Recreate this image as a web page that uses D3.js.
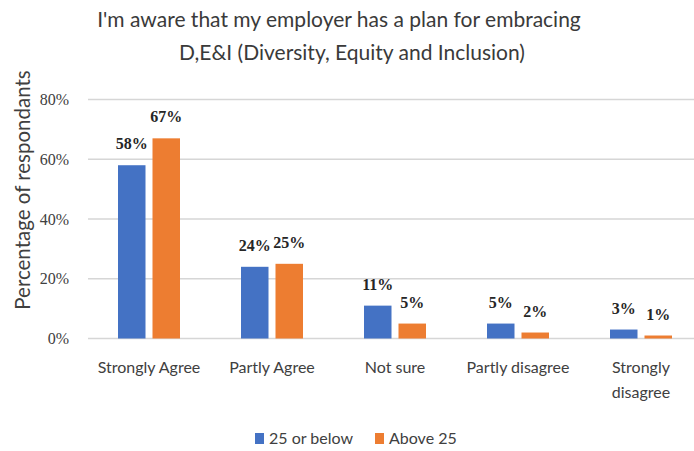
<!DOCTYPE html>
<html>
<head>
<meta charset="utf-8">
<script src="https://cdn.jsdelivr.net/npm/d3@7"></script>
<style>
  html, body { margin: 0; padding: 0; background: #fff; }
  svg { display: block; }
</style>
</head>
<body>
<svg id="chart" width="694" height="451"></svg>
<script>
// Survey responses by age group (percent of respondents)
const categories = ["Strongly Agree", "Partly Agree", "Not sure", "Partly disagree", "Strongly disagree"];
const seriesNames = ["25 or below", "Above 25"];
const youngerValues = [58, 24, 11, 5, 3];
const olderValues = [67, 25, 5, 2, 1];
const yTicks = [0, 20, 40, 60, 80];
const colors = ["#4472C4", "#ED7D31"];

const svg = d3.select("#chart");
const W = 694, H = 451;
const plotLeft = 88, plotRight = 694;

// Category bands (the last band runs past the visible edge)
const x = d3.scaleBand()
  .domain(categories)
  .range([87.5, 702.5])
  .paddingInner(0)
  .paddingOuter(0);

const y = d3.scaleLinear()
  .domain([0, 80])
  .range([338.5, 99.5]);

const sansFont = "Lato, 'Open Sans', sans-serif";
const serifFont = "'Liberation Serif', serif";

// Title
const title = svg.append("text")
  .attr("text-anchor", "middle")
  .attr("fill", "#3a3a3a")
  .style("font-family", sansFont)
  .style("font-size", "21px");
title.append("tspan").attr("x", 339).attr("y", 27).text("I'm aware that my employer has a plan for embracing");
title.append("tspan").attr("x", 352).attr("y", 60).text("D,E&I (Diversity, Equity and Inclusion)");

// Gridlines
svg.append("g")
  .selectAll("line")
  .data(yTicks)
  .join("line")
  .attr("x1", plotLeft)
  .attr("x2", plotRight)
  .attr("y1", d => y(d))
  .attr("y2", d => y(d))
  .attr("stroke", "#d6d6d6")
  .attr("stroke-width", 1.6);

// Y axis labels
const yAxis = d3.axisLeft(y)
  .tickValues(yTicks)
  .tickFormat(d => d + "%")
  .tickSize(0)
  .tickPadding(0);
const yg = svg.append("g")
  .attr("transform", `translate(69,0)`)
  .call(yAxis);
yg.select(".domain").remove();
yg.selectAll("text")
  .attr("fill", "#404040")
  .style("font-family", serifFont)
  .style("font-size", "16px");

// Y axis title
svg.append("text")
  .attr("transform", `translate(30,190) rotate(-90)`)
  .attr("text-anchor", "middle")
  .attr("fill", "#404040")
  .style("font-family", sansFont)
  .style("font-size", "20.5px")
  .text("Percentage of respondants");

// Bars with value labels
const barW = 27.5, gap = 7;
const series = [youngerValues, olderValues];
series.forEach((vals, si) => {
  const g = svg.append("g");
  const offset = si === 0 ? -(gap / 2 + barW) : gap / 2;
  g.selectAll("rect")
    .data(vals)
    .join("rect")
    .attr("x", (d, i) => x(categories[i]) + x.bandwidth() / 2 + offset)
    .attr("y", d => y(d))
    .attr("width", barW)
    .attr("height", d => y(0) - y(d))
    .attr("fill", colors[si]);
  g.selectAll("text")
    .data(vals)
    .join("text")
    .attr("x", (d, i) => x(categories[i]) + x.bandwidth() / 2 + offset + barW / 2)
    .attr("y", d => y(d) - 16)
    .attr("text-anchor", "middle")
    .attr("fill", "#262626")
    .style("font-family", serifFont)
    .style("font-weight", "bold")
    .style("font-size", "16px")
    .text(d => d + "%");
});

// Category labels
const catG = svg.append("g");
categories.forEach(c => {
  const cx = x(c) + x.bandwidth() / 2;
  const t = catG.append("text")
    .attr("text-anchor", "middle")
    .attr("fill", "#404040")
    .style("font-family", sansFont)
    .style("font-size", "16px");
  if (c === "Strongly disagree") {
    t.append("tspan").attr("x", cx).attr("y", 373).text("Strongly");
    t.append("tspan").attr("x", cx).attr("y", 398).text("disagree");
  } else {
    t.append("tspan").attr("x", cx).attr("y", 373).text(c);
  }
});

// Legend
const legendX = [255, 375];
const leg = svg.append("g");
seriesNames.forEach((name, i) => {
  leg.append("rect")
    .attr("x", legendX[i])
    .attr("y", 433)
    .attr("width", 9)
    .attr("height", 11)
    .attr("fill", colors[i]);
  leg.append("text")
    .attr("x", legendX[i] + 14)
    .attr("y", 444)
    .attr("fill", "#404040")
    .style("font-family", sansFont)
    .style("font-size", "16px")
    .text(name);
});
</script>
</body>
</html>
